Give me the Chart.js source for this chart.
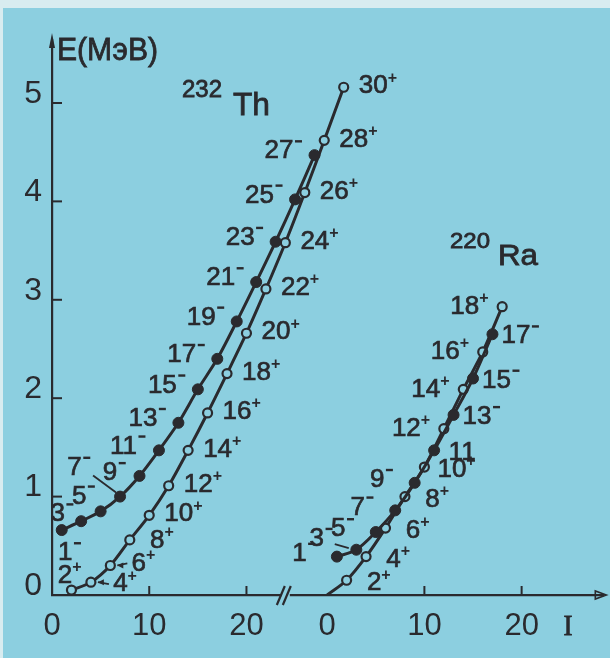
<!DOCTYPE html>
<html>
<head>
<meta charset="utf-8">
<script src="https://cdn.jsdelivr.net/npm/chart.js@4"></script>
<style>
  html, body { margin: 0; padding: 0; background: #8ccfe0; }
  canvas { display: block; }
</style>
</head>
<body>
<canvas id="levels" width="610" height="658"></canvas>
<script>
// 232Th: ground band (+) and octupole band (-)
const thPosSpins = [2, 4, 6, 8, 10, 12, 14, 16, 18, 20, 22, 24, 26, 28, 30];
const thPosEnergy = [0.05, 0.13, 0.30, 0.56, 0.81, 1.11, 1.47, 1.85, 2.25, 2.66, 3.11, 3.58, 4.09, 4.62, 5.16];
const thNegSpins = [1, 3, 5, 7, 9, 11, 13, 15, 17, 19, 21, 23, 25, 27];
const thNegEnergy = [0.66, 0.75, 0.85, 1.00, 1.21, 1.47, 1.75, 2.09, 2.40, 2.78, 3.18, 3.59, 4.02, 4.47];

// 220Ra
const raPosSpins = [0, 2, 4, 6, 8, 10, 12, 14, 16, 18];
const raPosEnergy = [0, 0.15, 0.39, 0.68, 1.00, 1.30, 1.69, 2.09, 2.47, 2.93];
const raNegSpins = [1, 3, 5, 7, 9, 11, 13, 15, 17];
const raNegEnergy = [0.39, 0.46, 0.64, 0.86, 1.14, 1.47, 1.83, 2.20, 2.65];

const thTicks = [0, 10, 20];
const raTicks = [0, 10, 20];
const energyTicks = [0, 1, 2, 3, 4, 5];

// the Ra part sits to the right of the axis break
const RA_SHIFT = 28.3;
const INK = "#2a2a2e";
const PAPER = "#8ccfe0";
const NARROW = '"Liberation Sans Narrow", "Liberation Sans", sans-serif';
const WIDE = '"Liberation Sans", sans-serif';

const toPoints = (spins, energy, shift) => spins.map((s, i) => ({ x: s + shift, y: energy[i] }));

function band(spins, energy, shift, filled) {
  return {
    data: toPoints(spins, energy, shift),
    showLine: true,
    borderColor: INK,
    borderWidth: 3,
    tension: 0.3,
    pointRadius: ctx => (spins[ctx.dataIndex] === 0 ? 0 : filled ? 5.5 : 4.5),
    pointBackgroundColor: filled ? INK : PAPER,
    pointBorderColor: INK,
    pointBorderWidth: filled ? 1 : 2.2
  };
}

const bands = [
  { spins: thNegSpins, energy: thNegEnergy, shift: 0, sign: "-", key: "thNeg" },
  { spins: thPosSpins, energy: thPosEnergy, shift: 0, sign: "+", key: "thPos" },
  { spins: raNegSpins, energy: raNegEnergy, shift: RA_SHIFT, sign: "-", key: "raNeg" },
  { spins: raPosSpins, energy: raPosEnergy, shift: RA_SHIFT, sign: "+", key: "raPos" }
];

// where each spin label goes relative to its point
function labelOffset(key, spin) {
  const special = {
    thNeg: { 1: [8, 22], 3: [-19, -8], 5: [-17, -16], 7: [-41, -30], 9: [-25, -4] },
    thPos: { 2: [-2, -15], 4: [34, 1], 6: [33, -3], 8: [32, 0] },
    raNeg: { 3: [-35, -12] },
    raPos: {}
  };
  if (special[key][spin]) return special[key][spin];
  if (key === "thNeg") return [-31, -5];
  if (key === "thPos") return [34, -2];
  if (key === "raPos") return spin <= 10 ? [32, 2] : [-33, -1];
  return spin <= 9 ? [-33, -4] : [28, 1];
}

function fitText(ctx, text, x, y, font, width, align) {
  ctx.save();
  ctx.font = font;
  const w = ctx.measureText(text).width;
  const k = width / w;
  ctx.translate(x, y);
  ctx.scale(k, 1);
  ctx.textAlign = "left";
  ctx.textBaseline = "alphabetic";
  const start = align === "center" ? -w / 2 : 0;
  ctx.lineWidth = 0.8;
  ctx.fillText(text, start, 0);
  ctx.strokeText(text, start, 0);
  ctx.restore();
}

function spinLabel(ctx, x, y, spin, sign) {
  ctx.save();
  ctx.translate(x, y);
  ctx.font = "26px " + NARROW;
  const txt = String(spin);
  const nw = ctx.measureText(txt).width;
  const total = nw + (sign ? 9 : 0);
  ctx.textBaseline = "middle";
  ctx.textAlign = "left";
  ctx.lineWidth = 0.7;
  ctx.fillText(txt, -total / 2, 1);
  ctx.strokeText(txt, -total / 2, 1);
  if (sign === "+") {
    ctx.font = "bold 16px " + WIDE;
    ctx.fillText("+", -total / 2 + nw, -7);
  } else if (sign === "-") {
    ctx.fillRect(-total / 2 + nw + 1.5, -10, 7, 2.4);
  }
  ctx.restore();
}

const paperPlugin = {
  id: "paper",
  beforeDraw(chart) {
    const { ctx, width, height } = chart;
    ctx.save();
    ctx.fillStyle = PAPER;
    ctx.fillRect(0, 0, width, height);
    ctx.fillStyle = "#d8ecf0";
    ctx.fillRect(0, 0, width, 8);
    ctx.fillRect(0, 0, 3, height);
    ctx.restore();
  }
};

const decorPlugin = {
  id: "decor",
  afterDraw(chart) {
    const { ctx, scales: { x, y } } = chart;
    const x0 = x.getPixelForValue(0);
    const y0 = y.getPixelForValue(0);
    ctx.save();
    ctx.strokeStyle = INK;
    ctx.fillStyle = INK;
    ctx.lineWidth = 2;

    // inward tick marks
    energyTicks.slice(1).forEach(v => {
      const py = y.getPixelForValue(v);
      ctx.beginPath(); ctx.moveTo(x0, py); ctx.lineTo(x0 + 10, py); ctx.stroke();
    });
    thTicks.slice(1).forEach(v => {
      const px = x.getPixelForValue(v);
      ctx.beginPath(); ctx.moveTo(px, y0); ctx.lineTo(px, y0 - 9); ctx.stroke();
    });
    raTicks.slice(1).forEach(v => {
      const px = x.getPixelForValue(v + RA_SHIFT);
      ctx.beginPath(); ctx.moveTo(px, y0); ctx.lineTo(px, y0 - 9); ctx.stroke();
    });

    // arrow heads
    const top = chart.chartArea.top;
    ctx.beginPath();
    ctx.moveTo(x0, top - 7); ctx.lineTo(x0 - 3, top + 8); ctx.lineTo(x0 + 3, top + 8);
    ctx.closePath(); ctx.fill();
    ctx.beginPath(); ctx.moveTo(x0, top + 8); ctx.lineTo(x0, top); ctx.stroke();
    const right = chart.chartArea.right;
    ctx.lineWidth = 1.6;
    ctx.beginPath();
    ctx.moveTo(right + 3, y0); ctx.lineTo(right - 8, y0 - 4); ctx.lineTo(right - 8, y0 + 4);
    ctx.closePath(); ctx.stroke();

    // axis break
    const bx = (x.getPixelForValue(20) + x.getPixelForValue(RA_SHIFT)) / 2;
    ctx.lineWidth = 2.2;
    ctx.fillStyle = PAPER;
    ctx.fillRect(bx - 5, y0 - 2, 8, 4);
    ctx.fillStyle = INK;
    [-6, 0].forEach(d => {
      ctx.beginPath(); ctx.moveTo(bx + d - 4, y0 + 10); ctx.lineTo(bx + d + 4, y0 - 9); ctx.stroke();
    });

    // titles
    fitText(ctx, "E(МэВ)", 57, 60, "32px " + WIDE, 101);
    fitText(ctx, "232", 182, 97, "24px " + WIDE, 40);
    fitText(ctx, "Th", 233, 115, "31px " + WIDE, 37);
    fitText(ctx, "220", 450, 248, "22px " + WIDE, 40);
    fitText(ctx, "Ra", 498, 265, "29px " + WIDE, 40);
    fitText(ctx, "I", 568, 635, '30px "Liberation Serif", serif', 9, "center");
    ctx.restore();
  },
  afterDatasetsDraw(chart) {
    const { ctx, scales: { x, y } } = chart;
    ctx.save();
    ctx.fillStyle = INK;
    ctx.strokeStyle = INK;
    bands.forEach(b => {
      b.spins.forEach((s, i) => {
        if (s === 0) return;
        const px = x.getPixelForValue(s + b.shift);
        const py = y.getPixelForValue(b.energy[i]);
        const [dx, dy] = labelOffset(b.key, s);
        const sign = b.key === "raNeg" && s === 11 ? "" : b.sign;
        spinLabel(ctx, px + dx, py + dy, s, sign);
        ctx.lineWidth = 1.8;
        if (b.key === "thNeg" && s === 7) {
          ctx.beginPath(); ctx.moveTo(px + dx + 14, py + dy + 9); ctx.lineTo(px - 4, py - 4); ctx.stroke();
        }
        if (b.key === "thPos" && (s === 4 || s === 6)) {
          const sx = px + dx - 16, ex = px + 7;
          ctx.beginPath(); ctx.moveTo(sx, py + dy + 1); ctx.lineTo(ex, py); ctx.stroke();
          ctx.beginPath(); ctx.moveTo(ex, py); ctx.lineTo(ex + 6, py - 3); ctx.lineTo(ex + 6, py + 3);
          ctx.closePath(); ctx.fill();
        }
        if (b.key === "raNeg" && s === 5) {
          ctx.beginPath(); ctx.moveTo(px + dx - 8, py + dy + 16); ctx.lineTo(px + dx + 6, py + dy + 20); ctx.stroke();
        }
      });
    });
    ctx.restore();
  }
};

new Chart(document.getElementById("levels"), {
  type: "scatter",
  data: {
    datasets: bands.map(b => band(b.spins, b.energy, b.shift, b.sign === "-"))
  },
  options: {
    responsive: false,
    animation: false,
    layout: { padding: { left: 12, top: 40, right: 5, bottom: 13 } },
    plugins: { legend: { display: false }, tooltip: { enabled: false } },
    scales: {
      x: {
        type: "linear",
        min: 0,
        max: 56.7,
        afterFit(scale) { scale.height = 50; },
        afterBuildTicks(scale) {
          scale.ticks = thTicks.map(v => ({ value: v })).concat(raTicks.map(v => ({ value: v + RA_SHIFT })));
        },
        grid: { drawOnChartArea: false, drawTicks: false },
        border: { display: true, color: INK, width: 2.2 },
        ticks: {
          padding: 13,
          color: INK,
          autoSkip: false,
          maxRotation: 0,
          font: { family: NARROW, size: 31 },
          callback: v => (v < RA_SHIFT - 1 ? v : Math.round(v - RA_SHIFT))
        }
      },
      y: {
        type: "linear",
        min: 0,
        max: 5.64,
        afterFit(scale) { scale.width = 40; },
        afterBuildTicks(scale) { scale.ticks = energyTicks.map(v => ({ value: v })); },
        grid: { drawOnChartArea: false, drawTicks: false },
        border: { display: true, color: INK, width: 2.2 },
        ticks: {
          padding: 10,
          labelOffset: -9,
          color: INK,
          font: { family: WIDE, size: 32 }
        }
      }
    }
  },
  plugins: [paperPlugin, decorPlugin]
});
</script>
</body>
</html>
